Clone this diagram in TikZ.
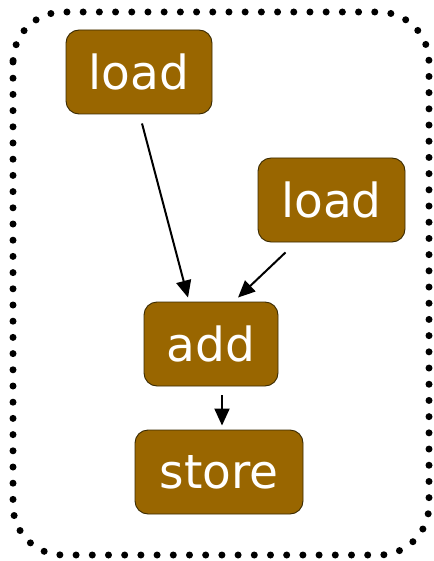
\documentclass[tikz,border=0pt]{standalone}
\usepackage{fontspec}
\setmainfont{DejaVu Sans}
\usetikzlibrary{calc,arrows.meta}
\definecolor{opfill}{HTML}{996600}
\definecolor{opedge}{HTML}{3A2A00}
\tikzset{
  op/.style={draw=opedge, line width=0.9pt, fill=opfill, rounded corners=13pt,
    text=white, font=\fontsize{47}{47}\selectfont, inner sep=0pt, anchor=center},
  flow/.style={line width=2pt, -{Triangle[length=17pt,width=15pt]}},
  frame/.style={line width=7pt, line cap=round, dash pattern=on 0pt off 16.2pt, rounded corners=50pt}
}
\begin{document}
\begin{tikzpicture}[x=1pt,y=-1pt]
  \useasboundingbox (0,0) rectangle (433,561);
  % dotted enclosing region
  \draw[frame] (13,12) rectangle (429,555);
  % operation nodes
  \node[op, minimum width=146pt, minimum height=84pt] (l1) at (139,72) {load};
  \node[op, minimum width=147pt, minimum height=84pt] (l2) at (331.5,200) {load};
  \node[op, minimum width=134pt, minimum height=84pt] (add) at (211,344) {add};
  \node[op, minimum width=168pt, minimum height=84pt] (st) at (219,472) {store};
  % data flow
  \draw[flow] ($(l1.south)+(3,9)$) -- ($(add.north)+(-23,-4)$);
  \draw[flow] ($(l2.south)+(-46,10)$) -- ($(add.north)+(27,-4)$);
  \draw[flow] ($(add.south)+(11,9)$) -- ($(st.north)+(3,-4)$);
\end{tikzpicture}
\end{document}
